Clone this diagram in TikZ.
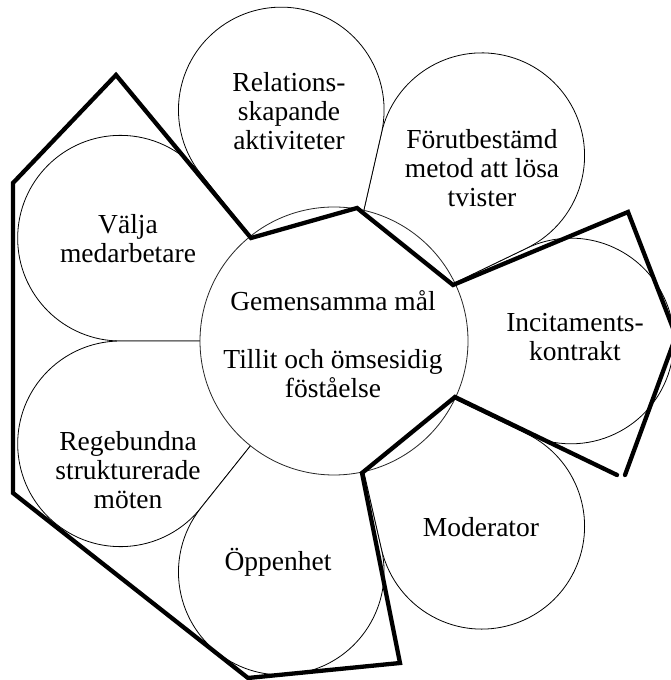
\documentclass[tikz,border=0pt]{standalone}
\usepackage{fontspec}
\setmainfont{Liberation Serif}
\begin{document}
\begin{tikzpicture}[x=1pt,y=1pt,
  petal/.style={draw=black, line width=0.8pt, fill=white},
  hub/.style={circle, draw=black!85, line width=0.8pt, fill=white, minimum size=268pt, inner sep=0pt},
  lbl/.style={align=center, font=\fontsize{27.5}{29}\selectfont, text=black, inner sep=0pt},
  frame/.style={line width=4.3pt, line cap=round, line join=miter}]
\clip (0,0) rectangle (671,680);
\fill[white] (0,0) rectangle (671,680);
\coordinate (C) at (334,339);
\def\D{237}
\def\al{25.7143}
\pgfmathsetmacro\r{\D*sin(\al)}
\pgfmathsetmacro\t{\D*cos(\al)}
\foreach \th in {0,51.4286,102.857,154.286,205.714,257.143,308.571}{
  \draw[petal] (C) -- ++({\th+\al}:\t)
     arc[start angle={\th+90+\al}, end angle={\th-90-\al}, radius=\r] -- cycle;
}
\node[hub] (hub) at (C) {};
\node[lbl] (rel) at (289,569) {Relations-\\skapande\\aktiviteter};
\node[lbl] (for) at (482,512) {Förutbestämd\\metod att lösa\\tvister};
\node[lbl] (val) at (128,441.5) {Välja\\medarbetare};
\node[lbl] (mid) at (333,335.5) {Gemensamma mål\\[29pt]Tillit och ömsesidig\\föståelse};
\node[lbl] (inc) at (575,343) {Incitaments-\\kontrakt};
\node[lbl] (reg) at (128,210) {Regebundna\\strukturerade\\möten};
\node[lbl] (mod) at (481,153) {Moderator};
\node[lbl] (opp) at (278,118) {Öppenhet};
% thick frame
\coordinate (p1) at (617,205);
\coordinate (p2) at (455,283);
\coordinate (p3) at (362,207);
\coordinate (p4) at (400,17);
\coordinate (p5) at (248,2);
\coordinate (p6) at (13,187);
\coordinate (p7) at (13,497);
\coordinate (p8) at (116,605);
\coordinate (p9) at (251,442);
\coordinate (p10) at (357,472);
\coordinate (p11) at (453,395);
\coordinate (p12) at (628,468);
\coordinate (p13) at (676,344);
\coordinate (p14) at (625,205);
\draw[frame] (p1) -- (p2) -- (p3) -- (p4) -- (p5) -- (p6) -- (p7) -- (p8) -- (p9) -- (p10) -- (p11) -- (p12) -- (p13) -- (p14);
\end{tikzpicture}
\end{document}
